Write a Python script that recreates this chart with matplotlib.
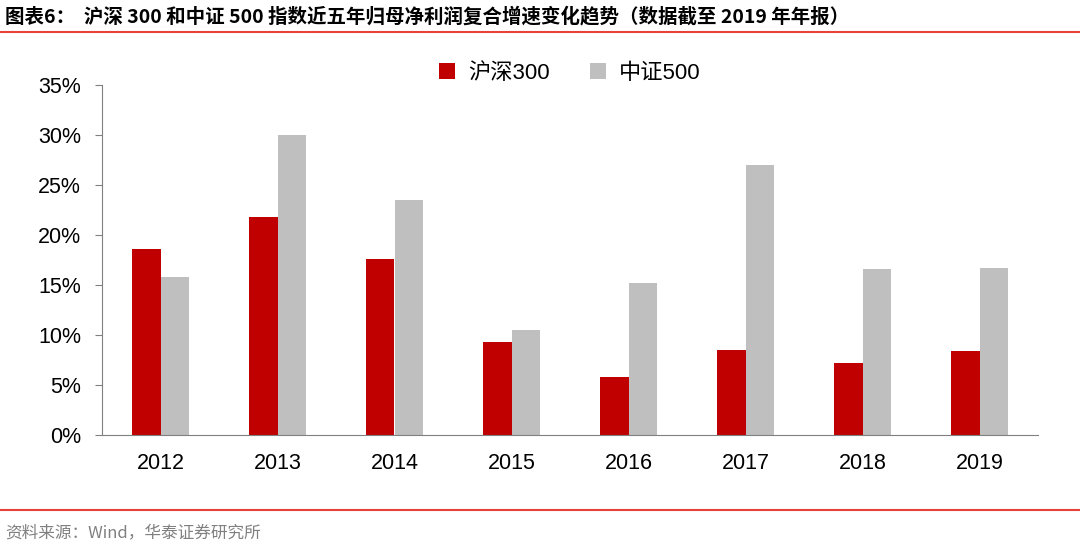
import numpy as np
import matplotlib.pyplot as plt
from matplotlib.ticker import PercentFormatter

plt.rcParams['font.family'] = ['Liberation Sans', 'Noto Sans CJK SC', 'DejaVu Sans']

years = ['2012', '2013', '2014', '2015', '2016', '2017', '2018', '2019']
hs300 = [18.6, 21.8, 17.6, 9.3, 5.8, 8.5, 7.2, 8.4]
zz500 = [15.8, 30.0, 23.5, 10.5, 15.2, 27.0, 16.6, 16.7]

fig = plt.figure(figsize=(10.8, 5.48), dpi=100)
ax = fig.add_axes([102/1080, 1 - 435/548, 936/1080, 350/548])

x = np.arange(len(years))
w = 0.24
ax.bar(x - w/2, hs300, w, color='#C00000', label='沪深300')
ax.bar(x + w/2, zz500, w, color='#BFBFBF', label='中证500')

ax.set_xlim(-0.5, len(years) - 0.5)
ax.set_ylim(0, 35)
ax.set_yticks(np.arange(0, 36, 5))
ax.yaxis.set_major_formatter(PercentFormatter(decimals=0))
ax.set_xticks(x)
ax.set_xticklabels(years)
ax.tick_params(axis='both', labelsize=15.5, color='#808080', length=5)
ax.tick_params(axis='y', pad=10)
ax.tick_params(axis='x', length=0, pad=13)
for s in ['top', 'right']:
    ax.spines[s].set_visible(False)
ax.spines['left'].set_color('#808080')
ax.spines['bottom'].set_color('#808080')

ax.legend(loc='upper center', bbox_to_anchor=(0.5, 1.12), ncol=2, frameon=False,
          fontsize=16, handlelength=0.7, handleheight=0.7, columnspacing=1.8, handletextpad=0.6)

fig.text(0.005, 1 - 16/548, '图表6：  沪深 300 和中证 500 指数近五年归母净利润复合增速变化趋势（数据截至 2019 年年报）',
         fontsize=14, fontweight='bold', va='center', ha='left',
         family=['Noto Sans CJK SC', 'DejaVu Sans'])
fig.add_artist(plt.Line2D([0, 1], [1 - 32/548] * 2, color='#E8413A', lw=1.5))
fig.add_artist(plt.Line2D([0, 1], [1 - 510/548] * 2, color='#E8413A', lw=1.5))
fig.text(0.005, 1 - 533/548, '资料来源：Wind，华泰证券研究所', fontsize=12, color='#808080',
         va='center', ha='left', family=['Noto Sans CJK SC', 'DejaVu Sans'])

fig.savefig('out.png', dpi=100)
